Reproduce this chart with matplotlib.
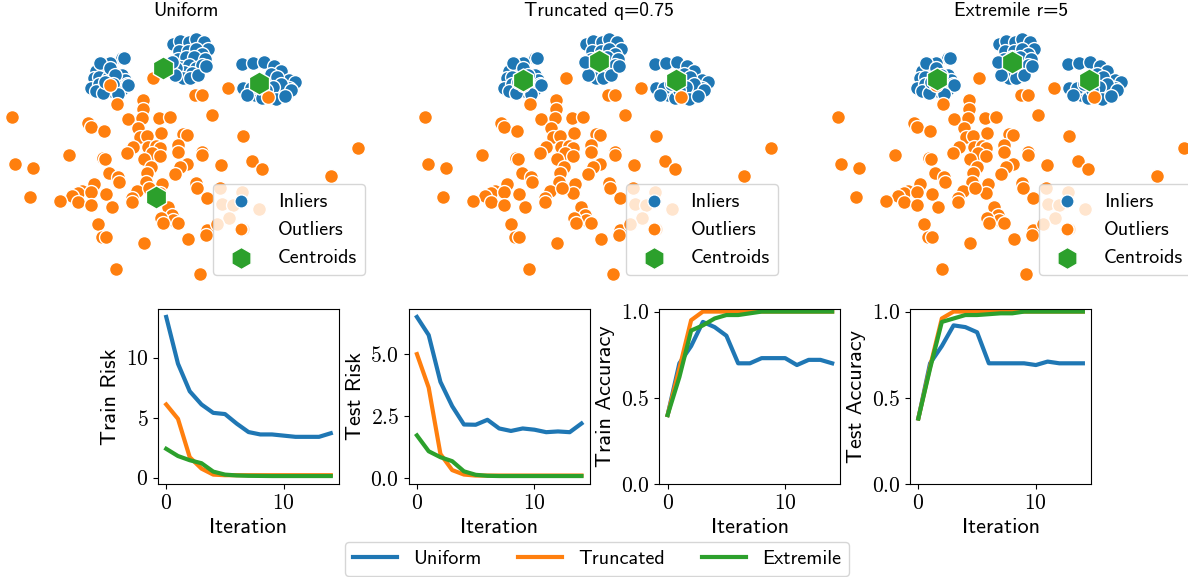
import matplotlib
matplotlib.use("Agg")
import matplotlib.pyplot as plt
from matplotlib.ticker import FixedLocator, FuncFormatter

plt.rcParams["font.family"] = "cmss10"
plt.rcParams["mathtext.fontset"] = "cm"
plt.rcParams["axes.unicode_minus"] = False

BLUE, ORANGE, GREEN = "#1f77b4", "#ff7f0e", "#2ca02c"

# ---- scatter data (same points in all three panels) ----
inlier_x = [122, 101, 110, 96, 105, 112, 122, 94, 99, 108, 116, 125, 91, 99, 103, 119, 127, 96, 106, 112,
            122, 124, 100, 128, 103, 110, 115, 105, 113, 118,
            173, 180, 189, 196, 204, 208, 179, 188, 196, 202, 178, 186, 194, 205, 181, 189, 196, 202, 184, 192,
            176, 183, 175, 190, 198, 206, 172,
            242, 253, 264, 274, 281, 289, 295, 289, 248, 255, 274, 282, 271, 277, 243, 251, 281, 273, 247, 276,
            291, 262, 266, 258, 285]
inlier_y = [58, 63, 63, 71, 71, 72, 75, 78, 77, 78, 80, 80, 88, 84, 88, 86, 84, 91, 91, 91,
            89, 58, 63, 85, 93, 68, 75, 82, 84, 94,
            44, 41, 42, 39, 42, 49, 51, 51, 49, 54, 59, 57, 57, 59, 67, 65, 68, 65, 72, 73,
            68, 78, 75, 78, 75, 66, 62,
            64, 63, 62, 66, 71, 80, 82, 88, 92, 95, 97, 90, 74, 77, 88, 88, 84, 87, 95, 99,
            90, 98, 90, 84, 96]

outlier_x = [110, 153, 268, 228, 195, 202, 117, 143, 143, 12, 212, 128, 142, 159, 170, 88, 91, 104, 138, 140,
             147, 161, 183, 187, 243, 358, 133, 148, 156, 160, 178, 178, 127, 152, 160, 202, 202, 69, 103, 105,
             144, 252, 15, 33, 221, 262, 187, 180, 151, 109, 118, 119, 175, 331, 147, 146, 162, 94, 196, 197,
             137, 82, 78, 91, 72, 106, 30, 132, 132, 207, 60, 78, 91, 112, 168, 172, 173, 178, 161, 163,
             98, 207, 206, 243, 102, 106, 188, 144, 116, 200, 220, 242, 222, 233, 259, 229, 217, 160, 149]
outlier_y = [85, 78, 97, 88, 95, 95, 104, 100, 109, 117, 115, 119, 118, 118, 117, 123, 127, 131, 128, 137,
             136, 133, 134, 135, 136, 148, 147, 147, 146, 148, 145, 152, 153, 153, 156, 152, 155, 155, 158, 159,
             159, 161, 164, 168, 165, 169, 164, 167, 167, 173, 177, 182, 174, 176, 173, 182, 184, 184, 183, 188,
             191, 191, 193, 192, 196, 194, 197, 198, 202, 198, 201, 202, 205, 207, 207, 215, 220, 223, 218, 223,
             224, 230, 235, 229, 237, 237, 239, 243, 269, 274, 188, 192, 204, 205, 209, 218, 224, 193, 188]

titles = ["Uniform", "Truncated q=0.75", "Extremile r=5"]
centroid_x = [[163, 156, 259], [110, 186, 263], [111, 186, 263]]
centroid_y = [[68, 197, 83], [80, 61, 80], [79, 62, 80]]

# ---- training curves ----
iterations = list(range(15))
methods = ["Uniform", "Truncated", "Extremile"]
colors = [BLUE, ORANGE, GREEN]

train_risk = [
    [13.4, 9.5, 7.2, 6.1, 5.4, 5.3, 4.5, 3.8, 3.6, 3.6, 3.5, 3.4, 3.4, 3.4, 3.7],
    [6.1, 4.9, 1.7, 0.75, 0.25, 0.2, 0.2, 0.2, 0.2, 0.2, 0.2, 0.2, 0.2, 0.2, 0.2],
    [2.4, 1.8, 1.45, 1.2, 0.5, 0.25, 0.18, 0.15, 0.14, 0.13, 0.13, 0.13, 0.13, 0.13, 0.13],
]
test_risk = [
    [6.5, 5.77, 3.88, 2.9, 2.16, 2.15, 2.35, 2.0, 1.9, 2.0, 1.95, 1.85, 1.88, 1.85, 2.2],
    [5.0, 3.65, 0.97, 0.32, 0.14, 0.1, 0.1, 0.1, 0.1, 0.1, 0.1, 0.1, 0.1, 0.1, 0.1],
    [1.72, 1.08, 0.84, 0.68, 0.27, 0.13, 0.09, 0.08, 0.08, 0.08, 0.08, 0.08, 0.08, 0.08, 0.08],
]
train_acc = [
    [0.40, 0.70, 0.80, 0.94, 0.91, 0.86, 0.70, 0.70, 0.73, 0.73, 0.73, 0.69, 0.72, 0.72, 0.70],
    [0.40, 0.67, 0.95, 1.0, 1.0, 1.0, 1.0, 1.0, 1.0, 1.0, 1.0, 1.0, 1.0, 1.0, 1.0],
    [0.40, 0.62, 0.89, 0.92, 0.96, 0.98, 0.98, 0.99, 1.0, 1.0, 1.0, 1.0, 1.0, 1.0, 1.0],
]
test_acc = [
    [0.38, 0.70, 0.80, 0.92, 0.91, 0.88, 0.70, 0.70, 0.70, 0.70, 0.69, 0.71, 0.70, 0.70, 0.70],
    [0.38, 0.68, 0.96, 1.0, 1.0, 1.0, 1.0, 1.0, 1.0, 1.0, 1.0, 1.0, 1.0, 1.0, 1.0],
    [0.38, 0.67, 0.94, 0.96, 0.98, 0.98, 0.985, 0.99, 0.99, 1.0, 1.0, 1.0, 1.0, 1.0, 1.0],
]

W, H = 1188, 577
fig = plt.figure(figsize=(W / 100, H / 100), dpi=100)


def px_axes(left, top, width, height):
    return fig.add_axes([left / W, 1 - (top + height) / H, width / W, height / H])


for i, title in enumerate(titles):
    ax = px_axes(-4 + 413 * i, 24, 379, 261)
    ax.scatter(inlier_x, inlier_y, s=100, c=BLUE, edgecolors="white", linewidths=1.0, label="Inliers")
    ax.scatter(outlier_x, outlier_y, s=100, c=ORANGE, edgecolors="white", linewidths=1.0, label="Outliers")
    ax.scatter(centroid_x[i], centroid_y[i], s=280, marker="h", c=GREEN, edgecolors="white",
               linewidths=1.0, label="Centroids")
    ax.set_xlim(-4, 375)
    ax.set_ylim(285, 24)
    ax.axis("off")
    ax.set_title(title, fontsize=14)
    ax.legend(loc="lower right", fontsize=14.5, markerscale=0.95)


def fmt(decimals):
    return FuncFormatter(lambda v, p: f"${v:.{decimals}f}$")


panels = [
    ("Train Risk", train_risk, [0, 5, 10], 0, None),
    ("Test Risk", test_risk, [0, 2.5, 5.0], 1, None),
    ("Train Accuracy", train_acc, [0, 0.5, 1.0], 1, (0, 1.015)),
    ("Test Accuracy", test_acc, [0, 0.5, 1.0], 1, (0, 1.015)),
]

for j, (ylabel, series, yticks, dec, ylim) in enumerate(panels):
    ax = px_axes(158 + 250.7 * j, 309, 181, 175)
    for name, color, vals in zip(methods, colors, series):
        ax.plot(iterations, vals, lw=3, color=color, label=name)
    if ylim:
        ax.set_ylim(*ylim)
    ax.yaxis.set_major_locator(FixedLocator(yticks))
    ax.yaxis.set_major_formatter(fmt(dec))
    ax.xaxis.set_major_locator(FixedLocator([0, 10]))
    ax.xaxis.set_major_formatter(fmt(0))
    ax.tick_params(labelsize=15.5)
    ax.set_ylabel(ylabel, fontsize=16)
    ax.set_xlabel("Iteration", fontsize=16)

handles, labels = ax.get_legend_handles_labels()
fig.legend(handles, labels, loc="lower center", bbox_to_anchor=(597 / W, 1 / H), ncol=3,
           fontsize=14.5, columnspacing=1.8, handlelength=2.2, borderaxespad=0)

fig.savefig("out.png", dpi=100)
